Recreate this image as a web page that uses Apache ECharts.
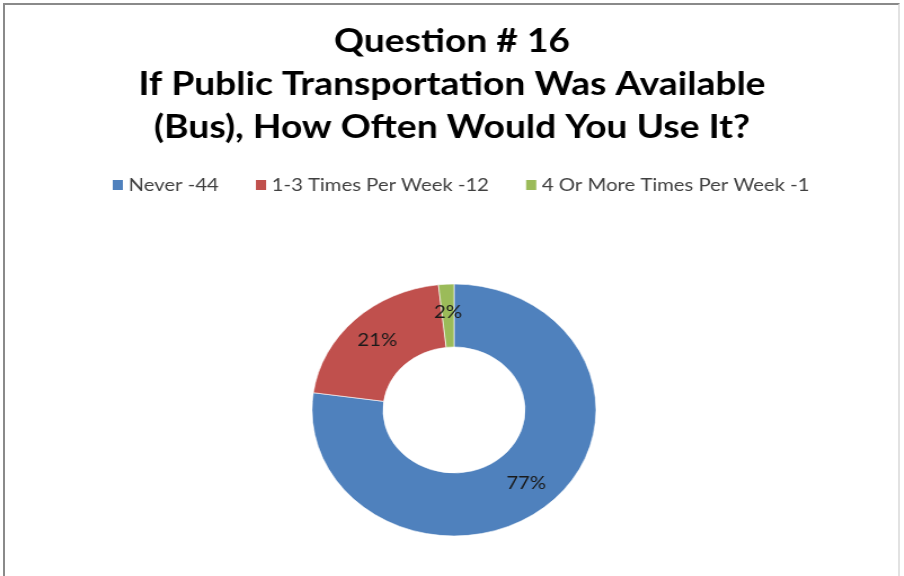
<!DOCTYPE html>
<html><head><meta charset="utf-8">
<script src="https://cdn.jsdelivr.net/npm/echarts@6/dist/echarts.min.js"></script>
<style>
html,body{margin:0;padding:0;background:#fff;}
#wrap{position:relative;width:904px;height:576px;overflow:hidden;}
#main,#pie{position:absolute;left:0;top:0;width:904px;height:576px;}
#main{transform:scaleX(1.127);transform-origin:452px 0px;}
#pie{transform:scaleX(1.127);transform-origin:454px 410px;}
#frame{position:absolute;left:3px;top:3px;width:897px;height:580px;border-left:2px solid #8a8a8a;border-top:2px solid #8a8a8a;border-right:2px solid #e2e2e2;box-sizing:border-box;pointer-events:none;}
</style></head>
<body><div id="wrap"><div id="main"></div><div id="pie"></div><div id="frame"></div></div>
<script>
const titleLines = ['Question # 16', 'If Public Transportation Was Available', '(Bus), How Often Would You Use It?'];
const categories = ['Never -44', '1-3 Times Per Week -12', '4 Or More Times Per Week -1'];
const values = [44, 12, 1];
const colors = ['#4F81BD', '#C0504D', '#9BBB59'];
const font = 'Lato, "Open Sans", sans-serif';

const main = echarts.init(document.getElementById('main'), null, {renderer: 'canvas'});
main.setOption({
  animation: false,
  title: {
    text: titleLines.join('\n'),
    left: 'center', top: 15,
    textStyle: {fontFamily: font, fontSize: 33, fontWeight: 'bold', color: '#000', lineHeight: 43}
  },
  legend: {
    data: categories, left: 146, top: 171,
    itemWidth: 9, itemHeight: 10, itemGap: 33, icon: 'rect',
    textStyle: {fontFamily: font, fontSize: 18, color: '#404040'}
  },
  color: colors,
  series: [{type: 'pie', radius: [0, 0], center: [-100, -100], silent: true, label: {show: false},
    data: categories.map((c, i) => ({name: c, value: values[i]}))}]
});

const pie = echarts.init(document.getElementById('pie'), null, {renderer: 'canvas'});
pie.setOption({
  animation: false,
  color: colors,
  series: [{
    type: 'pie', center: [454, 410], radius: [63, 126], startAngle: 90, clockwise: true,
    itemStyle: {borderColor: '#fff', borderWidth: 0.6},
    label: {show: true, position: 'inside', formatter: p => Math.round(p.percent) + '%',
      fontFamily: font, fontSize: 18, color: '#1a1a1a'},
    labelLine: {show: false},
    data: categories.map((c, i) => ({name: c, value: values[i]}))
  }]
});
</script></body></html>
